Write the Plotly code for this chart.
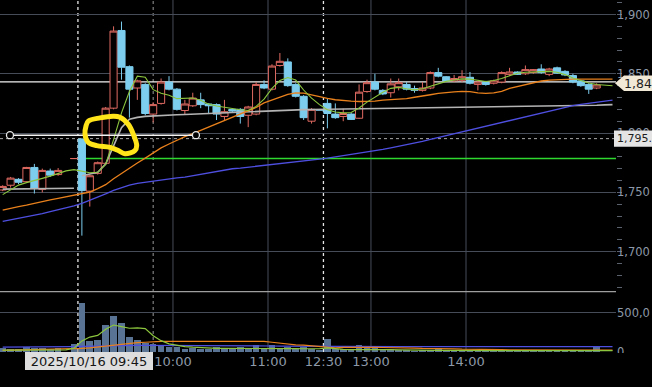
import plotly.graph_objects as go

# ---------------- data ----------------
# 5-minute bars; index 0..75.  Bars 0-9 = end of previous session
# (bar 8 = empty 15:25 slot, bar 9 = 15:30 close auction), bar 10 = 09:00.
OPEN = [1752, 1756, 1761, 1759, 1771, 1752.5, 1768, 1765, None, 1778.5,
        1795, 1751, 1766, 1774.5, 1821, 1886.5, 1856, 1838, 1841, 1816,
        1825, 1843, 1837, 1819, 1823, 1828, 1824.5, 1824, 1814, 1820,
        1820, 1815, 1816, 1841, 1837, 1857, 1860, 1841, 1831, 1810,
        1819.5, 1825, 1816, 1814, 1816, 1812.5, 1835, 1843, 1836, 1834,
        1839, 1841, 1837.5, 1836, 1838, 1851, 1847.5, 1844, 1844.5, 1847,
        1841, 1843, 1842, 1843, 1849.5, 1851.5, 1850, 1851, 1854, 1849.5,
        1855, 1852, 1848.5, 1844, 1841, 1838]
HIGH = [1756, 1763, 1762, 1771.5, 1774, 1770, 1770, 1770.5, None, 1778.5,
        1795.5, 1765, 1776, 1822, 1890, 1894, 1857, 1845, 1842, 1826,
        1846, 1848, 1838, 1828, 1834, 1834, 1825, 1825, 1828, 1821,
        1821, 1823, 1843, 1844.5, 1858, 1867.5, 1863, 1842, 1832, 1821,
        1819.5, 1829, 1825, 1820.5, 1817, 1841, 1845, 1850, 1837, 1846,
        1846, 1843, 1840, 1843, 1852, 1855, 1848, 1849, 1853, 1851.5,
        1844, 1844, 1845, 1852, 1855, 1852, 1857, 1854, 1858, 1855,
        1856, 1853, 1850, 1845, 1842, 1842]
LOW = [1751, 1754, 1757, 1758, 1749, 1750, 1763, 1764, None, 1778.5,
       1713.5, 1738, 1765, 1773, 1820, 1845, 1813, 1828, 1815, 1809,
       1824, 1836, 1819, 1816, 1822, 1821, 1816, 1811, 1811, 1817,
       1808, 1805, 1815, 1837, 1836, 1856, 1839, 1830, 1811, 1808,
       1819.5, 1804, 1812, 1810, 1811, 1812, 1834, 1836, 1832, 1830,
       1836, 1836, 1834, 1835, 1837, 1847, 1843, 1843, 1843, 1841,
       1836, 1840, 1841, 1842, 1848, 1849, 1849, 1850, 1850, 1848,
       1850, 1848, 1842, 1839, 1833, 1837]
CLOSE = [1755, 1762, 1758.5, 1771, 1753.5, 1768.5, 1764.5, 1768.5, None, 1778.5,
         1751.5, 1764, 1775, 1821, 1886, 1855.5, 1837, 1844, 1816.5, 1824,
         1843, 1837, 1820, 1824.5, 1829.5, 1824, 1823, 1816, 1818, 1818.5,
         1814, 1822, 1841, 1838, 1856.5, 1860.5, 1840, 1831, 1813, 1820,
         1819.5, 1816.5, 1813, 1816.5, 1811.5, 1834.5, 1842.5, 1837, 1833, 1841.5,
         1842.5, 1837, 1836, 1838, 1851, 1848, 1844, 1846, 1847.5, 1842,
         1843, 1841, 1844, 1851, 1851.5, 1849.5, 1853.5, 1853.5, 1851, 1854,
         1850.5, 1849, 1843, 1840, 1837, 1840.5]
VOLUME = [45000, 40000, 35000, 60000, 55000, 50000, 40000, 45000, 0, 104000,
          632000, 145000, 154000, 341000, 466000, 366000, 195000, 154000, 112000, 104000,
          95000, 62000, 70000, 37000, 50000, 37000, 42000, 62000, 33000, 37000,
          62000, 42000, 91000, 54000, 91000, 54000, 62000, 54000, 62000, 42000,
          30000, 166000, 42000, 33000, 20000, 87000, 62000, 70000, 42000, 42000,
          20000, 25000, 18000, 20000, 30000, 54000, 25000, 20000, 28000, 30000,
          22000, 18000, 15000, 25000, 20000, 15000, 22000, 18000, 20000, 18000,
          15000, 20000, 25000, 18000, 22000, 70000]

# moving-average / VWAP lines (price), read per bar (lines run two bars past the last candle)
MA_SHORT = [1748.1, 1752.4, 1756.1, 1758.2, 1760.3, 1761.8, 1763.7, 1765.9, 1768.1, 1769.2,
            1768.1, 1766.5, 1766.9, 1773.5, 1794.5, 1817.0, 1835.0, 1848.0, 1847.0, 1836.6,
            1833.5, 1831.9, 1829.0, 1829.4, 1829.6, 1827.7, 1824.4, 1822.8, 1821.5, 1820.7,
            1819.7, 1819.0, 1822.5, 1828.6, 1837.7, 1844.3, 1846.8, 1844.7, 1836.3, 1829.4,
            1824.0, 1819.7, 1817.8, 1817.0, 1817.4, 1821.1, 1826.1, 1830.2, 1834.4, 1837.7,
            1838.5, 1837.3, 1836.4, 1837.3, 1839.3, 1841.8, 1843.6, 1844.7, 1845.7, 1845.5,
            1844.3, 1843.5, 1844.3, 1846.0, 1848.4, 1850.5, 1851.3, 1851.7, 1852.0, 1852.0,
            1851.3, 1849.3, 1846.4, 1844.3, 1842.2, 1841.0, 1840.3, 1839.9]
MA_MID = [1735.0, 1736.7, 1737.9, 1739.2, 1740.8, 1742.5, 1743.7, 1744.9, 1746.2, 1747.4,
          1748.7, 1750.3, 1753.2, 1756.5, 1761.5, 1766.1, 1770.6, 1774.8, 1778.9, 1783.5,
          1787.5, 1790.8, 1794.2, 1797.0, 1799.5, 1802.3, 1805.0, 1807.8, 1810.3, 1813.2,
          1816.0, 1818.6, 1821.6, 1825.5, 1828.0, 1830.4, 1832.7, 1833.9, 1833.6, 1832.2,
          1830.4, 1829.2, 1828.1, 1827.3, 1826.9, 1826.6, 1826.6, 1826.9, 1827.7, 1828.0,
          1828.1, 1829.0, 1830.2, 1831.0, 1832.3, 1833.5, 1834.4, 1834.8, 1835.2, 1834.9,
          1833.9, 1833.5, 1833.9, 1835.2, 1837.7, 1839.3, 1841.0, 1842.6, 1843.9, 1844.7,
          1845.1, 1845.3, 1845.4, 1845.4, 1845.4, 1845.4, 1845.4, 1845.4]
MA_LONG = [1725.5, 1726.7, 1727.9, 1729.1, 1730.3, 1732.0, 1733.7, 1735.3, 1736.8, 1738.7,
           1740.8, 1743.3, 1745.8, 1748.7, 1751.6, 1754.1, 1756.1, 1757.6, 1758.6, 1759.6,
           1760.5, 1761.3, 1762.2, 1762.9, 1764.1, 1765.4, 1766.7, 1768.1, 1769.1, 1769.9,
           1770.5, 1771.2, 1771.9, 1772.5, 1773.3, 1774.1, 1774.9, 1775.7, 1776.4, 1777.2,
           1778.0, 1778.8, 1779.8, 1780.8, 1781.9, 1782.9, 1783.9, 1785.1, 1786.3, 1787.6,
           1788.8, 1790.0, 1791.3, 1792.9, 1794.6, 1796.2, 1797.8, 1799.3, 1800.8, 1802.5,
           1804.1, 1805.7, 1807.4, 1809.0, 1810.7, 1812.3, 1814.0, 1815.6, 1817.2, 1818.9,
           1820.5, 1822.2, 1823.2, 1824.2, 1825.2, 1826.2, 1827.0, 1827.7]
VWAP_PREV = [1752.7, 1752.8, 1752.9, 1753.0, 1753.1, 1753.2, 1753.3, 1753.4, 1753.5, 1753.5]
VWAP_TODAY = [1764.0, 1765.2, 1766.9, 1773.9, 1788.8, 1804.6, 1811.6, 1813.2, 1814.1, 1814.6,
              1815.1, 1815.3, 1815.5, 1815.7, 1816.0, 1816.1, 1816.4, 1816.6, 1816.9, 1817.2,
              1817.5, 1817.8, 1818.1, 1818.5, 1818.8, 1819.0, 1819.4, 1819.6, 1819.8, 1819.9,
              1820.0, 1820.0, 1820.1, 1820.1, 1820.1, 1820.2, 1820.2, 1820.3, 1820.4, 1820.5,
              1820.7, 1820.8, 1821.0, 1821.1, 1821.1, 1821.1, 1821.2, 1821.3, 1821.4, 1821.5,
              1821.6, 1821.7, 1821.8, 1821.9, 1822.0, 1822.2, 1822.3, 1822.4, 1822.5, 1822.6,
              1822.7, 1822.8, 1823.0, 1823.1, 1823.3, 1823.5, 1823.8, 1824.0]
VWAP_TODAY_START = 10

# volume moving averages
VMA_SHORT = [25000, 25000, 25000, 28000, 30000, 32000, 30000, 30000, 28000, 50000,
             142000, 191000, 212000, 291000, 345000, 325000, 304000, 308000, 300000, 208000,
             145000, 104000, 83000, 70000, 62000, 54000, 48000, 46000, 46000, 46000,
             48000, 50000, 52000, 50000, 48000, 46000, 44000, 44000, 42000, 42000,
             42000, 54000, 40000, 35000, 30000, 30000, 35000, 38000, 35000, 30000,
             28000, 25000, 22000, 20000, 20000, 22000, 22000, 20000, 18000, 18000,
             18000, 18000, 18000, 17000, 17000, 17000, 17000, 16000, 16000, 16000,
             16000, 16000, 16000, 17000, 17000, 17000, 18000, 18000]
VMA_MID = [22000, 24000, 26000, 28000, 30000, 32000, 34000, 36000, 38000, 42000,
           46000, 54000, 66000, 79000, 91000, 100000, 112000, 121000, 125000, 133000,
           137000, 137000, 137000, 137000, 137000, 137000, 137000, 137000, 137000, 137000,
           137000, 137000, 137000, 137000, 125000, 112000, 100000, 91000, 87000, 79000,
           66000, 54000, 54000, 60000, 62000, 62000, 62000, 60000, 58000, 58000,
           56000, 54000, 50000, 46000, 46000, 44000, 42000, 40000, 36000, 33000,
           33000, 32000, 31000, 30000, 29000, 28000, 27000, 26000, 25000, 25000,
           25000, 25000, 25000, 25000, 25000, 25000, 25000, 25000]
VMA_LONG = [62000, 62000, 63000, 64000, 65000, 66000, 67000, 68000, 69000, 70000,
            72000, 75000, 78000, 80000, 82000, 84000, 85000, 86000, 86000, 86000,
            86000, 86000, 85000, 85000, 84000, 84000, 83000, 82000, 82000, 81000,
            80000, 79000, 78000, 78000, 77000, 76000, 75000, 74000, 73000, 72000,
            72000, 71000, 71000, 70000, 70000, 70000, 70000, 70000, 70000, 70000,
            70000, 70000, 70000, 70000, 70000, 70000, 70000, 70000, 70000, 70000,
            70000, 70000, 70000, 70000, 70000, 70000, 70000, 70000, 70000, 70000,
            70000, 70000, 70000, 70000, 70000, 70000, 70000, 70000]

# axis ticks / labels (texts as far as they are visible at the chart's right edge)
TIME_TICKS = [21.5, 33.5, 40.5, 46.5, 58.5]
TIME_LABELS = ["10:00", "11:00", "12:30", "13:00", "14:00"]
GRID_TIMES = [21.5, 33.5, 46.5, 58.5]
SESSION_BREAKS = [9.5, 40.5]
PRICE_TICKS = [1700, 1750, 1800, 1850, 1900]
PRICE_LABELS = ["1,700", "1,750", "1,800", "1,850", "1,900"]
VOL_TICKS = [0, 500000]
VOL_LABELS = ["0", "500,0"]

# reference lines, drawings and cursor
PREV_CLOSE = 1778.6
PREV_CLOSE_FROM = 10
REF_LINE = 1843.2
LAST_PRICE = 1842
LAST_LABEL = "1,84"
CROSS_BAR = 19
CROSS_PRICE = 1795.3
CROSS_PRICE_LABEL = "1,795."
CROSS_DATE = "2025/10/16 09:45"
TREND_X = [0.92, 24.4]
TREND_Y = [1798.2, 1798.2]
MARK_X = [10.52, 10.81, 12.29, 13.96, 14.81, 15.86, 16.49, 16.92, 16.70, 15.44,
          14.60, 13.55, 11.87, 10.81, 10.39, 10.52]
MARK_Y = [1806.0, 1810.1, 1812.8, 1814.2, 1813.4, 1807.3, 1799.0, 1789.4, 1785.3, 1782.5,
          1785.3, 1788.0, 1789.4, 1792.1, 1799.0, 1806.0]

# ---------------- layout geometry ----------------
W, H = 652, 387
PLOT_R = 616 / W
PRICE_DOM = [1 - 297 / H, 1.0]
VOL_DOM = [1 - 358.5 / H, 1 - 297 / H]
X_RANGE = [-0.34, 77.44]
Y_RANGE = [1666.3, 1912.2]
V_RANGE = [0, 772000]
PX_PER_PRICE = 297 / (Y_RANGE[1] - Y_RANGE[0])

FONT = "DejaVu Sans"
AXIS_TXT = "#8d99a8"
GRID = "#464c58"

fig = go.Figure()

idx = [i for i in range(len(OPEN)) if OPEN[i] is not None]
fig.add_trace(go.Candlestick(
    x=idx,
    open=[OPEN[i] for i in idx], high=[HIGH[i] for i in idx],
    low=[LOW[i] for i in idx], close=[CLOSE[i] for i in idx],
    increasing=dict(line=dict(color="#df6a62", width=1), fillcolor="#050000"),
    decreasing=dict(line=dict(color="#7ccdee", width=1), fillcolor="#7ccdee"),
    whiskerwidth=0, xaxis="x", yaxis="y", hoverinfo="skip",
))

fig.add_trace(go.Bar(
    x=list(range(len(VOLUME))), y=VOLUME, width=0.84,
    marker=dict(color="#587393", line=dict(width=0)),
    xaxis="x2", yaxis="y2", hoverinfo="skip",
))

fig.add_trace(go.Scatter(x=list(range(len(VWAP_PREV))), y=VWAP_PREV, mode="lines",
                         line=dict(color="#b4b4b4", width=1.6), hoverinfo="skip"))
fig.add_trace(go.Scatter(x=list(range(VWAP_TODAY_START, VWAP_TODAY_START + len(VWAP_TODAY))),
                         y=VWAP_TODAY, mode="lines",
                         line=dict(color="#b4b4b4", width=1.6), hoverinfo="skip"))
fig.add_trace(go.Scatter(x=list(range(len(MA_LONG))), y=MA_LONG, mode="lines",
                         line=dict(color="#4e4fe0", width=1.3), hoverinfo="skip"))
fig.add_trace(go.Scatter(x=list(range(len(MA_MID))), y=MA_MID, mode="lines",
                         line=dict(color="#e8801c", width=1.3), hoverinfo="skip"))
fig.add_trace(go.Scatter(x=list(range(len(MA_SHORT))), y=MA_SHORT, mode="lines",
                         line=dict(color="#8cc63e", width=1.1), hoverinfo="skip"))

for vals, col in [(VMA_LONG, "#4e4fe0"), (VMA_MID, "#e8801c"), (VMA_SHORT, "#8cc63e")]:
    fig.add_trace(go.Scatter(x=list(range(len(vals))), y=vals, mode="lines",
                             line=dict(color=col, width=1.2), xaxis="x2", yaxis="y2",
                             hoverinfo="skip"))

# user-drawn trend line and yellow mark
fig.add_trace(go.Scatter(x=TREND_X, y=TREND_Y, mode="lines+markers",
                         line=dict(color="#f4f4f4", width=1.5),
                         marker=dict(symbol="circle", size=7, color="#000000",
                                     line=dict(color="#e8e8e8", width=1.3)),
                         hoverinfo="skip"))
fig.add_trace(go.Scatter(x=MARK_X, y=MARK_Y, mode="lines",
                         line=dict(color="#ffe41a", width=5, shape="spline", smoothing=1.0),
                         hoverinfo="skip"))

shapes = []
for t in GRID_TIMES:
    shapes.append(dict(type="line", xref="x", yref="paper", x0=t, x1=t,
                       y0=VOL_DOM[0], y1=1, line=dict(color=GRID, width=1), layer="below"))
for t in SESSION_BREAKS:
    shapes.append(dict(type="line", xref="x", yref="paper", x0=t, x1=t,
                       y0=VOL_DOM[0], y1=1, line=dict(color="#e6e6e6", width=1.3, dash="dot"),
                       layer="below"))
shapes.append(dict(type="line", xref="x", yref="paper", x0=CROSS_BAR, x1=CROSS_BAR,
                   y0=VOL_DOM[0], y1=1, line=dict(color="#9a9a9a", width=1, dash="dot"),
                   layer="below"))
shapes.append(dict(type="line", xref="paper", yref="y", x0=0, x1=PLOT_R,
                   y0=CROSS_PRICE, y1=CROSS_PRICE, line=dict(color="#a8a8a8", width=1, dash="dot"),
                   layer="below"))
shapes.append(dict(type="line", xref="paper", yref="y", x0=0, x1=PLOT_R,
                   y0=REF_LINE, y1=REF_LINE, line=dict(color="#f2f2f2", width=1.4),
                   layer="below"))
shapes.append(dict(type="line", xref="x", yref="y", x0=PREV_CLOSE_FROM, x1=X_RANGE[1],
                   y0=PREV_CLOSE, y1=PREV_CLOSE, line=dict(color="#2fd82f", width=1.4),
                   layer="below"))
# panel separator
shapes.append(dict(type="line", xref="paper", yref="paper", x0=0, x1=PLOT_R,
                   y0=PRICE_DOM[0], y1=PRICE_DOM[0], line=dict(color="#9e9e9e", width=1.2),
                   layer="above"))
# clip the volume-axis label at the panel bottom
shapes.append(dict(type="rect", xref="paper", yref="paper", x0=PLOT_R, x1=1,
                   y0=0, y1=1 - 359.5 / H, fillcolor="#000000", line=dict(width=0),
                   layer="above"))
# crosshair price box (extends to the right edge)
half_c = 8.3 / PX_PER_PRICE
shapes.append(dict(type="rect", xref="paper", yref="y", x0=614 / W, x1=1.0,
                   y0=CROSS_PRICE - half_c, y1=CROSS_PRICE + half_c,
                   fillcolor="#e4e4e4", line=dict(width=0), layer="above"))
# last-price tag arrow
tip_x = 615 / W
box_x = 624 / W
half = 8 / PX_PER_PRICE
shapes.append(dict(type="path", xref="paper", yref="y",
                   path=f"M {tip_x} {LAST_PRICE} L {box_x} {LAST_PRICE + half} "
                        f"L {1.0} {LAST_PRICE + half} L {1.0} {LAST_PRICE - half} "
                        f"L {box_x} {LAST_PRICE - half} Z",
                   fillcolor="#f1e8d6", line=dict(width=0), layer="above"))

annotations = [
    dict(xref="paper", yref="y", x=624 / W, y=LAST_PRICE, xanchor="left", yanchor="middle",
         text=LAST_LABEL, showarrow=False, borderpad=0, borderwidth=0,
         font=dict(family=FONT, size=12.5, color="#1e1e1e")),
    dict(xref="paper", yref="y", x=616.5 / W, y=CROSS_PRICE, xanchor="left", yanchor="middle",
         text=CROSS_PRICE_LABEL, showarrow=False, borderpad=0, borderwidth=0,
         font=dict(family=FONT, size=11, color="#1e1e1e")),
    dict(xref="paper", yref="paper", x=25 / W, y=1 - 367.5 / H, xanchor="left",
         yanchor="middle", text=CROSS_DATE, showarrow=False, bgcolor="#dedede",
         width=126, height=16, borderpad=1, borderwidth=0, align="center",
         font=dict(family=FONT, size=13, color="#151515")),
]

# figure size comes from the page div (652x387, pinned to the top-left corner)
fig.update_layout(
    margin=dict(l=0, r=0, t=0, b=0, pad=0),
    paper_bgcolor="#000000", plot_bgcolor="#000000",
    showlegend=False, hovermode=False,
    boxgap=0.1, boxgroupgap=0,
    bargap=0,
    shapes=shapes, annotations=annotations,
    xaxis=dict(domain=[0, PLOT_R], range=X_RANGE, anchor="y", showgrid=False,
               zeroline=False, showticklabels=False, ticks="",
               rangeslider=dict(visible=False), showline=False),
    xaxis2=dict(domain=[0, PLOT_R], range=X_RANGE, anchor="y2", matches="x",
                showgrid=False, zeroline=False, tickmode="array",
                tickvals=TIME_TICKS, ticktext=TIME_LABELS, ticks="",
                tickfont=dict(family=FONT, size=13, color=AXIS_TXT), showline=False),
    yaxis=dict(domain=PRICE_DOM, range=Y_RANGE, anchor="x", side="right",
               tickmode="array", tickvals=PRICE_TICKS, ticktext=PRICE_LABELS,
               showgrid=True, gridcolor=GRID, gridwidth=1, zeroline=False, ticks="",
               minor=dict(tickmode="linear", tick0=1700, dtick=10, ticks="outside",
                          ticklen=5, tickcolor="#5b616d", showgrid=False),
               tickfont=dict(family=FONT, size=11.5, color=AXIS_TXT), showline=False),
    yaxis2=dict(domain=VOL_DOM, range=V_RANGE, anchor="x2", side="right",
                tickmode="array", tickvals=VOL_TICKS, ticktext=VOL_LABELS,
                showgrid=True, gridcolor=GRID, gridwidth=1, zeroline=False, ticks="",
                tickfont=dict(family=FONT, size=11.5, color=AXIS_TXT), showline=False),
)

PAGE_JS = """
[document.documentElement, document.body].forEach(function (e) {
  e.style.margin = '0'; e.style.padding = '0'; e.style.background = '#000';
});
"""

fig.write_html(
    "out.html",
    config=dict(displayModeBar=False, staticPlot=True, responsive=False),
    default_width=f"{W}px",
    default_height=f"{H}px; position:absolute; left:0; top:0; margin:0",
    post_script=PAGE_JS,
)
